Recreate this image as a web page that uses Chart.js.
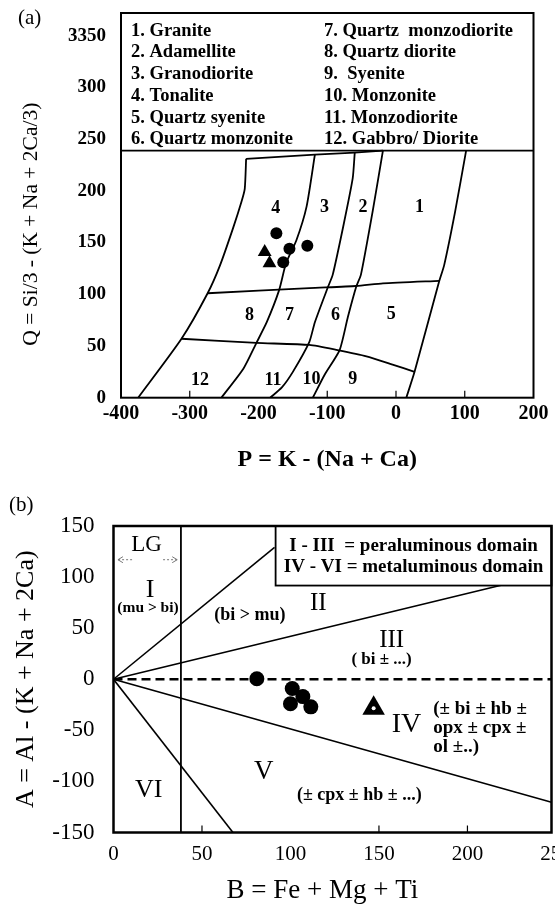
<!DOCTYPE html>
<html>
<head>
<meta charset="utf-8">
<title>P-Q and A-B diagrams</title>
<script src="https://cdn.jsdelivr.net/npm/chart.js@4.4.1/dist/chart.umd.min.js"></script>
<style>
  html, body { margin: 0; padding: 0; background: #fff; overflow: hidden; }
  #wrap { position: relative; width: 555px; height: 912px; }
  canvas { position: absolute; left: 0; }
  #qp { top: 0; }
  #ab { top: 480px; }
  .panel { position: absolute; font: 21px "Liberation Serif", serif; }
</style>
</head>
<body>
<div id="wrap">
  <canvas id="qp" width="555" height="480"></canvas>
  <canvas id="ab" width="555" height="432"></canvas>
  <div class="panel" style="left:18px;top:5px">(a)</div>
  <div class="panel" style="left:9px;top:492px">(b)</div>
</div>
<script>
const SERIF = '"Liberation Serif", "Times New Roman", serif';
const NB = '\u00a0';

// ---- (a) P-Q diagram ----
const pTicks = [-400, -300, -200, -100, 0, 100, 200];
const pTickMarks = [-300, -100, 0, 100];
const qTicks = [0, 50, 100, 150, 200, 250, 300, 350];
const qTickText = ['0', '50', '100', '150', '200', '250', '300', '3350'];

// field boundaries [P, Q]
const qpLeft  = [[-218, 231], [-220, 202], [-225, 189], [-237, 164], [-256, 128], [-274, 101], [-312, 57], [-375, 0]];
const qp43    = [[-118, 235], [-130, 185], [-145, 152], [-160, 130], [-170, 104], [-188, 73], [-203, 53], [-222, 28], [-254, 0]];
const qp32    = [[-60, 237], [-63, 212], [-76, 168], [-92, 119], [-99, 107], [-118, 73], [-126, 54], [-150, 25], [-166, 10], [-183, 0]];
const qp21    = [[-19, 239], [-34, 180], [-51, 119], [-58, 107], [-70, 78], [-82, 46], [-104, 22], [-121, 0]];
const qpRight = [[102, 239], [86, 180], [70, 128], [63, 113], [27, 25], [15, 0]];
const qpTop   = [[-218, 231], [-118, 235], [-60, 237], [-19, 239]];
const qpMid   = [[-274, 101], [-126, 106], [-58, 108], [-19, 110.5], [63, 113]];
const qpLow   = [[-312, 57], [-203, 53], [-126, 51], [-85, 46], [-43, 40], [-5, 32], [27, 25]];
const qpListFloor = 239;

// samples
const qpCircles   = [[-174, 159], [-155, 144], [-129, 147], [-164, 131]];
const qpTriangles = [[-191, 141], [-184, 130]];

const qpNamesLeft  = ['1. Granite', '2. Adamellite', '3. Granodiorite', '4. Tonalite', '5. Quartz syenite', '6. Quartz monzonite'];
const qpNamesRight = ['7. Quartz  monzodiorite', '8. Quartz diorite', '9.  Syenite', '10. Monzonite', '11. Monzodiorite', '12. Gabbro/ Diorite'];
const qpFieldNames = [['4', -175, 183], ['3', -104, 184], ['2', -48, 184], ['1', 34, 184],
  ['8', -213, 80], ['7', -155, 80], ['6', -88, 80], ['5', -7, 81],
  ['12', -285, 17], ['11', -179, 17], ['10', -123, 18], ['9', -63, 18]];

// ---- (b) A-B diagram ----
const bTicks = [0, 50, 100, 150, 200, 250];
const bTickMarks = [50, 150, 200];
const aTicks = [-150, -100, -50, 0, 50, 100, 150];

const abRayII  = [[0, 0], [91, 129]];
const abRayIII = [[0, 0], [219, 92]];
const abZero   = [[0, 0], [247.5, 0]];
const abRayIV  = [[0, 0], [247.5, -120.4]];
const abRayV   = [[0, 0], [67.5, -150]];
const abLG     = [[38.1, -150], [38.1, 150]];
const abBoxCorner = [91.6, 91.7];

const abCircles   = [[81, 0.5], [101, -9], [107, -17], [100, -24], [111.5, -27]];
const abTriangles = [[147, -28.5]];

const abBoxText = ['I - III  = peraluminous domain', 'IV - VI = metaluminous domain'];
const abFieldNames = [
  ['LG', 18.7, 131.4, '23px'], ['I', 20.6, 87.4, '26px'], ['(mu > bi)', 19.5, 69.4, 'bold 15.5px'],
  ['(bi > mu)', 77, 62.9, 'bold 18px'], ['II', 115.7, 74.3, '25px'], ['III', 157.2, 38.4, '25px'],
  ['( bi ± ...)', 151.5, 18.8, 'bold 17px'], ['IV', 165.6, -44.8, '28px'], ['V', 84.9, -90.5, '27px'],
  ['(± cpx ± hb ± ...)', 138.9, -113.3, 'bold 18px'], ['VI', 19.9, -108.4, '26px']];
const abNote = ['(± bi ± hb ±', 'opx ± cpx ±', 'ol ±..)'];
const abNoteAt = [180.7, -29.1, -18.6];   // B, first line A, step in A
const lgArrows = [[[10.5, 117], [2.5, 117]], [[28, 117], [36, 117]]];

Chart.defaults.font.family = SERIF;
Chart.defaults.color = '#000';

const pts = arr => arr.map(([x, y]) => ({x, y}));
const edge = (arr, extra) => Object.assign({
  data: pts(arr), showLine: true, borderColor: '#000', borderWidth: 1.8,
  pointRadius: 0, tension: 0.2, order: 2
}, extra);
const marks = (arr, style, r) => ({
  data: pts(arr), pointStyle: style, pointRadius: r, backgroundColor: '#000',
  borderColor: '#000', borderWidth: 0, showLine: false, order: 0
});

function frame(ctx, a, w) {
  ctx.lineWidth = w;
  ctx.strokeStyle = '#000';
  ctx.strokeRect(a.left, a.top, a.width, a.height);
}

function innerTicks(ctx, a, x, values) {
  ctx.lineWidth = 1.2;
  values.forEach(v => {
    const px = x.getPixelForValue(v);
    ctx.beginPath(); ctx.moveTo(px, a.bottom); ctx.lineTo(px, a.bottom - 7); ctx.stroke();
  });
}

const qpDecor = {
  id: 'qpDecor',
  afterDatasetsDraw(chart) {
    const {ctx, chartArea: a, scales: {x, y}} = chart;
    ctx.save();
    ctx.strokeStyle = '#000';
    ctx.fillStyle = '#000';
    innerTicks(ctx, a, x, pTickMarks);
    const floor = y.getPixelForValue(qpListFloor);
    ctx.lineWidth = 1.8;
    ctx.beginPath(); ctx.moveTo(a.left, floor); ctx.lineTo(a.right, floor); ctx.stroke();
    ctx.font = `bold 18.5px ${SERIF}`;
    ctx.textBaseline = 'middle';
    ctx.textAlign = 'left';
    qpNamesLeft.forEach((t, i) => ctx.fillText(t, a.left + 10, a.top + 18 + i * 21.7));
    qpNamesRight.forEach((t, i) => ctx.fillText(t, a.left + 203, a.top + 18 + i * 21.7));
    ctx.font = `bold 18px ${SERIF}`;
    ctx.textAlign = 'center';
    qpFieldNames.forEach(([t, p, q]) => ctx.fillText(t, x.getPixelForValue(p), y.getPixelForValue(q)));
    frame(ctx, a, 2);
    ctx.restore();
  }
};

const abDecor = {
  id: 'abDecor',
  afterDatasetsDraw(chart) {
    const {ctx, chartArea: a, scales: {x, y}} = chart;
    ctx.save();
    ctx.strokeStyle = '#000';
    ctx.fillStyle = '#000';
    innerTicks(ctx, a, x, bTickMarks);

    // domain key box, top right
    const bx = x.getPixelForValue(abBoxCorner[0]);
    const by = y.getPixelForValue(abBoxCorner[1]);
    ctx.fillStyle = '#fff';
    ctx.fillRect(bx, a.top, a.right - bx, by - a.top);
    ctx.lineWidth = 1.8;
    ctx.strokeRect(bx, a.top, a.right - bx, by - a.top);
    ctx.fillStyle = '#000';
    ctx.font = `bold 19px ${SERIF}`;
    ctx.textAlign = 'center';
    ctx.textBaseline = 'middle';
    abBoxText.forEach((t, i) => ctx.fillText(t, (bx + a.right) / 2, a.top + 20 + i * 21));

    abFieldNames.forEach(([t, b, v, f]) => {
      ctx.font = `${f} ${SERIF}`;
      ctx.fillText(t, x.getPixelForValue(b), y.getPixelForValue(v));
    });
    ctx.font = `bold 19px ${SERIF}`;
    ctx.textAlign = 'left';
    abNote.forEach((t, i) => ctx.fillText(t, x.getPixelForValue(abNoteAt[0]),
      y.getPixelForValue(abNoteAt[1] + i * abNoteAt[2])));

    // faint dotted arrows of the LG field
    ctx.strokeStyle = '#777';
    ctx.lineWidth = 1;
    lgArrows.forEach(([from, to]) => {
      const x0 = x.getPixelForValue(from[0]), x1 = x.getPixelForValue(to[0]);
      const yy = y.getPixelForValue(from[1]);
      const d = Math.sign(x1 - x0);
      ctx.setLineDash([2, 2]);
      ctx.beginPath(); ctx.moveTo(x0, yy); ctx.lineTo(x1, yy); ctx.stroke();
      ctx.setLineDash([]);
      ctx.beginPath();
      ctx.moveTo(x1 - d * 5, yy - 3); ctx.lineTo(x1, yy); ctx.lineTo(x1 - d * 5, yy + 3);
      ctx.stroke();
    });

    ctx.strokeStyle = '#000';
    frame(ctx, a, 2.5);
    ctx.restore();
  }
};

new Chart(document.getElementById('qp'), {
  type: 'scatter',
  data: {
    datasets: [
      marks(qpCircles, 'circle', 6),
      marks(qpTriangles, 'triangle', 8),
      edge(qpLeft), edge(qp43), edge(qp32), edge(qp21), edge(qpRight),
      edge(qpTop, {tension: 0}), edge(qpMid), edge(qpLow)
    ]
  },
  options: {
    responsive: false,
    animation: false,
    layout: {padding: {top: 13, right: 21.5, bottom: 0, left: 0}, autoPadding: false},
    plugins: {legend: {display: false}, tooltip: {enabled: false}},
    scales: {
      x: {
        min: -400, max: 200,
        grid: {display: false, drawTicks: false},
        border: {display: false},
        ticks: {padding: 4, font: {size: 20, weight: 'bold'}},
        title: {display: true, text: 'P = K - (Na + Ca)', font: {size: 24, weight: 'bold'}, padding: {top: 0, bottom: 6}},
        afterBuildTicks: s => { s.ticks = pTicks.map(v => ({value: v})); },
        afterFit: s => { s.height = 82.3; s.paddingLeft = 0; s.paddingRight = 0; }
      },
      y: {
        min: 0, max: 372,
        grid: {display: false, drawTicks: false},
        border: {display: false},
        ticks: {padding: 15, font: {size: 19, weight: 'bold'}, callback: v => qTickText[qTicks.indexOf(v)]},
        // trailing spaces push the centred title down to where the scan has it
        title: {display: true, text: 'Q = Si/3 - (K + Na + 2Ca/3)' + NB.repeat(7), font: {size: 21.5}, padding: {top: 18, bottom: 0}},
        afterBuildTicks: s => { s.ticks = qTicks.map(v => ({value: v})); },
        afterFit: s => { s.width = 121; s.paddingTop = 0; s.paddingBottom = 0; }
      }
    }
  },
  plugins: [qpDecor]
});

new Chart(document.getElementById('ab'), {
  type: 'scatter',
  data: {
    datasets: [
      marks(abCircles, 'circle', 7.5),
      Object.assign(marks(abTriangles, 'triangle', 13), {order: 1}),
      Object.assign(marks(abTriangles, 'circle', 2), {backgroundColor: '#fff'}),
      edge(abRayII, {tension: 0, borderWidth: 1.6}), edge(abRayIII, {tension: 0, borderWidth: 1.6}),
      edge(abRayIV, {tension: 0, borderWidth: 1.6}), edge(abRayV, {tension: 0, borderWidth: 1.6}),
      edge(abLG, {tension: 0}),
      edge(abZero, {tension: 0, borderWidth: 2.6, borderDash: [9, 5]})
    ]
  },
  options: {
    responsive: false,
    animation: false,
    layout: {padding: {top: 46, right: 3.5, bottom: 0, left: 0}, autoPadding: false},
    plugins: {legend: {display: false}, tooltip: {enabled: false}},
    scales: {
      x: {
        min: 0, max: 247.5,
        grid: {display: false, drawTicks: false},
        border: {display: false},
        ticks: {padding: 9, font: {size: 21}},
        title: {display: true, text: 'B = Fe + Mg + Ti' + NB.repeat(3), font: {size: 27}, padding: {top: 0, bottom: 5}},
        afterBuildTicks: s => { s.ticks = bTicks.map(v => ({value: v})); },
        afterFit: s => { s.height = 79.5; s.paddingLeft = 0; s.paddingRight = 0; }
      },
      y: {
        min: -150, max: 150,
        grid: {display: false, drawTicks: false},
        border: {display: false},
        ticks: {padding: 19, font: {size: 23}},
        title: {display: true, text: 'A = Al - (K + Na + 2Ca)', font: {size: 26}, padding: {top: 11, bottom: 0}},
        afterBuildTicks: s => { s.ticks = aTicks.map(v => ({value: v})); },
        afterFit: s => { s.width = 113.5; s.paddingTop = 0; s.paddingBottom = 0; }
      }
    }
  },
  plugins: [abDecor]
});
</script>
</body>
</html>
